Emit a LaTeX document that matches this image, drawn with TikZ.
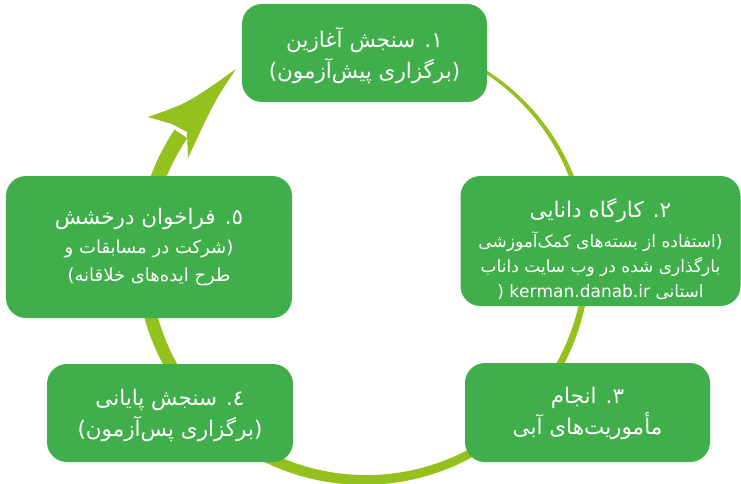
\documentclass[tikz,border=0pt]{standalone}
\usepackage{fontspec}
\newfontfamily\fa[Script=Arabic]{DejaVu Sans}
\TeXXeTstate=1
\newcommand\rl[1]{\beginR #1\endR}
\newcommand\fbig{\fontsize{21.5}{31}\selectfont}
\newcommand\fsub{\fontsize{17}{25}\selectfont}
\newcommand\fsubb{\fontsize{18}{26}\selectfont}
\newcommand\lp{\beginL(\endL}
\newcommand\rp{\beginL)\endL}
\definecolor{boxgreen}{RGB}{64,174,74}
\definecolor{swoosh}{RGB}{149,193,31}
\tikzset{
  box/.style={fill=boxgreen, rounded corners=20pt, inner sep=0pt},
  txt/.style={text=white, align=center, inner sep=0pt, font=\fa\fbig},
}
\begin{document}
\begin{tikzpicture}[x=1pt,y=-1pt]
\useasboundingbox (0,0) rectangle (741,484);
\fill[white] (0,0) rectangle (741,484);
% tapered swoosh
\fill[swoosh]
  plot[domain=-70:214,samples=120] ({365+(222+1.5+6*(\x+60)/265)*cos(\x)},{258+(222+1.5+6*(\x+60)/265)*sin(\x)})
  -- plot[domain=214:-70,samples=120] ({365+(222-1.5-6*(\x+60)/265)*cos(\x)},{258+(222-1.5-6*(\x+60)/265)*sin(\x)})
  -- cycle;
\fill[swoosh] (172,124) -- (148,117) .. controls (188,103) .. (236,69)
  .. controls (214,102) .. (188,158) -- (187,132) -- cycle;
% boxes
\node[box, minimum width=245pt, minimum height=98pt] (b1) at (364.5,53) {};
\node[box, minimum width=280pt, minimum height=130pt] (b2) at (600.5,241) {};
\node[box, minimum width=245pt, minimum height=99pt] (b3) at (587.5,412.5) {};
\node[box, minimum width=246pt, minimum height=98pt] (b4) at (170,413) {};
\node[box, minimum width=286pt, minimum height=142pt] (b5) at (149,247) {};
% texts
\node[txt] (t1) at (364.5,56)
  {\rl{۱. سنجش آغازین}\\\rl{(برگزاری پیش‌آزمون)}};
\node[txt] (t2) at (600.5,248.5)
  {\rl{۲. کارگاه دانایی}\\[-1pt]
   \fsub\rl{\lp{}استفاده از بسته‌های کمک‌آموزشی}\\[-6pt]
   \fsub\rl{بارگذاری شده در وب سایت داناب}\\[-6pt]
   \fsub\rl{استانی kerman.danab.ir \lp}};
\node[txt] (t3) at (587.5,413.5)
  {\rl{۳. انجام}\\\rl{مأموریت‌های آبی}};
\node[txt] (t4) at (170,415.5)
  {\rl{٤. سنجش پایانی}\\\rl{(برگزاری پس‌آزمون)}};
\node[txt] (t5) at (149,247)
  {\rl{٥. فراخوان درخشش}\\[-2pt]
   \fsubb\rl{\lp{}شرکت در مسابقات و}\\[-3pt]
   \fsubb\rl{طرح ایده‌های خلاقانه\rp}};
\end{tikzpicture}
\end{document}
